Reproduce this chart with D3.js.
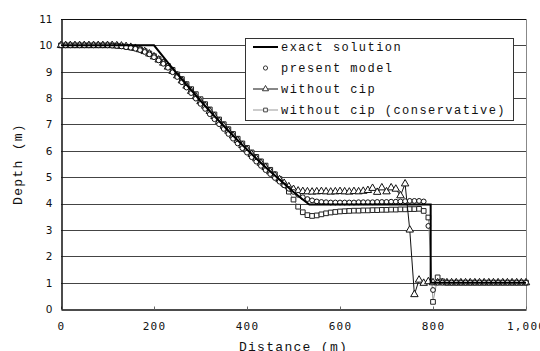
<!DOCTYPE html>
<html>
<head>
<meta charset="utf-8">
<script src="https://cdn.jsdelivr.net/npm/d3@7"></script>
<style>
  html, body { margin: 0; padding: 0; background: #fff; }
  svg { display: block; }
</style>
</head>
<body>
<script>
// Chart size
const WIDTH = 540;
const HEIGHT = 351;
const M = { left: 61, right: 14, top: 19, bottom: 42 };

// Sample positions of the numerical runs (m)
const distances = d3.range(0, 1001, 10);

// Exact solution
const exactX = [0, 200, 220, 240, 260, 280, 300, 320, 340, 360, 380, 400,
  420, 440, 460, 480, 500, 520, 534, 795, 795, 1000];
const exactDepth = [10, 10, 9.56, 9.13, 8.71, 8.30, 7.90, 7.51, 7.13, 6.76, 6.40, 6.05,
  5.71, 5.38, 5.06, 4.75, 4.44, 4.15, 3.96, 3.96, 1.0, 1.0];

// present model (circles)
const presentModel = [
  10, 10, 10, 10, 10, 10, 10, 10, 10, 10,
  10, 9.99, 9.98, 9.96, 9.93, 9.91, 9.87, 9.82, 9.75, 9.66,
  9.55, 9.43, 9.30, 9.15, 8.98, 8.80, 8.60, 8.40, 8.19, 7.98,
  7.78, 7.59, 7.39, 7.20, 7.01, 6.83, 6.64, 6.46, 6.28, 6.10,
  5.93, 5.76, 5.59, 5.43, 5.27, 5.12, 4.97, 4.83, 4.69, 4.56,
  4.44, 4.33, 4.24, 4.17, 4.12, 4.08, 4.06, 4.05, 4.04, 4.04,
  4.04, 4.04, 4.04, 4.04, 4.05, 4.05, 4.05, 4.05, 4.06, 4.06,
  4.06, 4.07, 4.07, 4.08, 4.09, 4.10, 4.10, 4.10, 4.08, 3.15,
  0.72, 1, 1, 1, 1, 1, 1, 1, 1, 1,
  1, 1, 1, 1, 1, 1, 1, 1, 1, 1, 1
];

// without cip (triangles)
const withoutCip = [
  10, 10, 10, 10, 10, 10, 10, 10, 10, 10,
  10, 10, 9.99, 9.98, 9.96, 9.93, 9.89, 9.84, 9.77, 9.68,
  9.57, 9.45, 9.33, 9.18, 9.02, 8.85, 8.66, 8.46, 8.26, 8.06,
  7.87, 7.70, 7.50, 7.31, 7.12, 6.94, 6.75, 6.57, 6.39, 6.21,
  6.04, 5.87, 5.70, 5.53, 5.37, 5.21, 5.06, 4.91, 4.77, 4.64,
  4.54, 4.48, 4.46, 4.45, 4.44, 4.45, 4.46, 4.45, 4.44, 4.45,
  4.46, 4.45, 4.44, 4.46, 4.45, 4.47, 4.50, 4.58, 4.43, 4.60,
  4.45, 4.60, 4.55, 4.30, 4.75, 3.00, 0.55, 1.10, 0.98, 1.04,
  1, 1, 1, 1, 1, 1, 1, 1, 1, 1,
  1, 1, 1, 1, 1, 1, 1, 1, 1, 1, 1
];

// without cip (conservative) (squares)
const withoutCipCons = [
  10, 10, 10, 10, 10, 10, 10, 10, 10, 10,
  10, 10, 9.99, 9.97, 9.95, 9.92, 9.89, 9.85, 9.78, 9.69,
  9.59, 9.48, 9.36, 9.22, 9.07, 8.90, 8.72, 8.53, 8.34, 8.15,
  7.96, 7.77, 7.57, 7.38, 7.19, 7.01, 6.82, 6.64, 6.46, 6.28,
  6.11, 5.94, 5.77, 5.60, 5.44, 5.28, 5.11, 4.93, 4.72, 4.45,
  4.15, 3.88, 3.67, 3.56, 3.53, 3.55, 3.59, 3.63, 3.66, 3.68,
  3.70, 3.71, 3.72, 3.73, 3.73, 3.74, 3.74, 3.75, 3.75, 3.76,
  3.76, 3.77, 3.77, 3.78, 3.78, 3.79, 3.79, 3.80, 3.72, 3.47,
  0.27, 1.20, 1.05, 1, 1, 1, 1, 1, 1, 1,
  1, 1, 1, 1, 1, 1, 1, 1, 1, 1, 1
];

const xTicks = [0, 200, 400, 600, 800, 1000];
const yTicks = [0, 1, 2, 3, 4, 5, 6, 7, 8, 9, 10, 11];
const legendLabels = ['exact solution', 'present model', 'without cip', 'without cip (conservative)'];

const MONO = '"Courier New", "Liberation Mono", "Nimbus Mono PS", Courier, monospace';

const svg = d3.select('body').append('svg')
  .attr('width', WIDTH)
  .attr('height', HEIGHT);

svg.append('rect').attr('width', WIDTH).attr('height', HEIGHT).attr('fill', '#fff');

const x = d3.scaleLinear([0, 1000], [M.left, WIDTH - M.right]);
const y = d3.scaleLinear([0, 11], [HEIGHT - M.bottom, M.top]);

// Grid lines
svg.append('g')
  .selectAll('line')
  .data(yTicks.filter((d) => d > 0 && d < 11))
  .join('line')
  .attr('x1', x(0))
  .attr('x2', x(1000))
  .attr('y1', (d) => Math.round(y(d)) + 0.5)
  .attr('y2', (d) => Math.round(y(d)) + 0.5)
  .attr('stroke', '#444')
  .attr('stroke-width', 1);

// Frame: top black, right grey
svg.append('line')
  .attr('x1', x(0)).attr('x2', x(1000))
  .attr('y1', Math.round(y(11)) + 0.5).attr('y2', Math.round(y(11)) + 0.5)
  .attr('stroke', '#111');
svg.append('line')
  .attr('x1', Math.round(x(1000)) + 0.5).attr('x2', Math.round(x(1000)) + 0.5)
  .attr('y1', y(11)).attr('y2', y(0))
  .attr('stroke', '#888');

// X axis
const xAxis = svg.append('g')
  .attr('transform', `translate(0, ${Math.round(y(0)) + 0.5})`)
  .call(d3.axisBottom(x).tickValues(xTicks).tickSize(-3).tickPadding(13).tickSizeOuter(0));
xAxis.select('.domain').attr('stroke', '#111').attr('stroke-width', 1.5);
xAxis.selectAll('.tick line').attr('stroke', '#666');
xAxis.selectAll('text')
  .attr('font-family', '"DejaVu Sans Mono", monospace')
  .attr('font-size', 11)
  .attr('letter-spacing', 1.2)
  .attr('fill', '#111');

// Y axis
const yAxis = svg.append('g')
  .attr('transform', `translate(${Math.round(x(0)) + 0.5}, 0)`)
  .call(d3.axisLeft(y).tickValues(yTicks).tickSize(0).tickPadding(9).tickSizeOuter(0));
yAxis.select('.domain').attr('stroke', '#111').attr('stroke-width', 1.5);
yAxis.selectAll('text')
  .attr('font-family', '"DejaVu Sans", sans-serif')
  .attr('font-size', 10.5)
  .attr('fill', '#111');

// Axis titles
svg.append('text')
  .attr('x', (x(0) + x(1000)) / 2)
  .attr('y', 351)
  .attr('text-anchor', 'middle')
  .attr('font-family', MONO)
  .attr('font-size', 13)
  .attr('letter-spacing', 1.3)
  .attr('fill', '#111')
  .text('Distance (m)');

svg.append('text')
  .attr('transform', `translate(22, ${(y(0) + y(11)) / 2}) rotate(-90)`)
  .attr('text-anchor', 'middle')
  .attr('font-family', MONO)
  .attr('font-size', 13)
  .attr('letter-spacing', 1.3)
  .attr('fill', '#111')
  .text('Depth (m)');

const pts = (vals) => distances.map((d, i) => [d, vals[i]]);
const line = d3.line().x((d) => x(d[0])).y((d) => y(d[1]));
const tri = d3.symbol().type(d3.symbolTriangle).size(24);
const sq = d3.symbol().type(d3.symbolSquare).size(22);

const plot = svg.append('g');

// without cip (conservative): grey line + squares
plot.append('path')
  .datum(pts(withoutCipCons))
  .attr('d', line)
  .attr('fill', 'none')
  .attr('stroke', '#999')
  .attr('stroke-width', 1);
plot.append('g')
  .selectAll('path')
  .data(pts(withoutCipCons))
  .join('path')
  .attr('d', sq)
  .attr('transform', (d) => `translate(${x(d[0])}, ${y(d[1])})`)
  .attr('fill', '#fff')
  .attr('stroke', '#222')
  .attr('stroke-width', 1);

// without cip: black line + triangles
plot.append('path')
  .datum(pts(withoutCip))
  .attr('d', line)
  .attr('fill', 'none')
  .attr('stroke', '#111')
  .attr('stroke-width', 1);
plot.append('g')
  .selectAll('path')
  .data(pts(withoutCip))
  .join('path')
  .attr('d', tri)
  .attr('transform', (d) => `translate(${x(d[0])}, ${y(d[1])})`)
  .attr('fill', '#fff')
  .attr('stroke', '#111')
  .attr('stroke-width', 1);

// present model: circles only
plot.append('g')
  .selectAll('circle')
  .data(pts(presentModel))
  .join('circle')
  .attr('cx', (d) => x(d[0]))
  .attr('cy', (d) => y(d[1]))
  .attr('r', 2.4)
  .attr('fill', '#fff')
  .attr('stroke', '#111')
  .attr('stroke-width', 1);

// exact solution
plot.append('path')
  .datum(exactX.map((d, i) => [d, exactDepth[i]]))
  .attr('d', line)
  .attr('fill', 'none')
  .attr('stroke', '#000')
  .attr('stroke-width', 2);

// Legend
const lg = svg.append('g');
lg.append('rect')
  .attr('x', 245.5).attr('y', 38.5)
  .attr('width', 268).attr('height', 82)
  .attr('fill', '#fff')
  .attr('stroke', '#333')
  .attr('stroke-width', 1);

const rowY = [47, 68, 89, 110];
legendLabels.forEach((label, i) => {
  const cy = rowY[i];
  if (i === 0) {
    lg.append('line').attr('x1', 253).attr('x2', 278).attr('y1', cy).attr('y2', cy)
      .attr('stroke', '#000').attr('stroke-width', 2);
  } else if (i === 1) {
    lg.append('circle').attr('cx', 265.5).attr('cy', cy).attr('r', 2.1)
      .attr('fill', '#fff').attr('stroke', '#222').attr('stroke-width', 0.9);
  } else if (i === 2) {
    lg.append('line').attr('x1', 253).attr('x2', 278).attr('y1', cy).attr('y2', cy)
      .attr('stroke', '#111').attr('stroke-width', 1);
    lg.append('path').attr('d', d3.symbol().type(d3.symbolTriangle).size(16)).attr('transform', `translate(265.5, ${cy})`)
      .attr('fill', '#fff').attr('stroke', '#222').attr('stroke-width', 0.9);
  } else {
    lg.append('line').attr('x1', 253).attr('x2', 278).attr('y1', cy).attr('y2', cy)
      .attr('stroke', '#999').attr('stroke-width', 1);
    lg.append('path').attr('d', d3.symbol().type(d3.symbolSquare).size(14)).attr('transform', `translate(265.5, ${cy})`)
      .attr('fill', '#fff').attr('stroke', '#333').attr('stroke-width', 0.9);
  }
  lg.append('text')
    .attr('x', 281)
    .attr('y', cy)
    .attr('dy', '0.35em')
    .attr('font-family', MONO)
    .attr('font-size', 12)
    .attr('letter-spacing', 1.45)
    .attr('fill', '#111')
    .text(label);
});
</script>
</body>
</html>
